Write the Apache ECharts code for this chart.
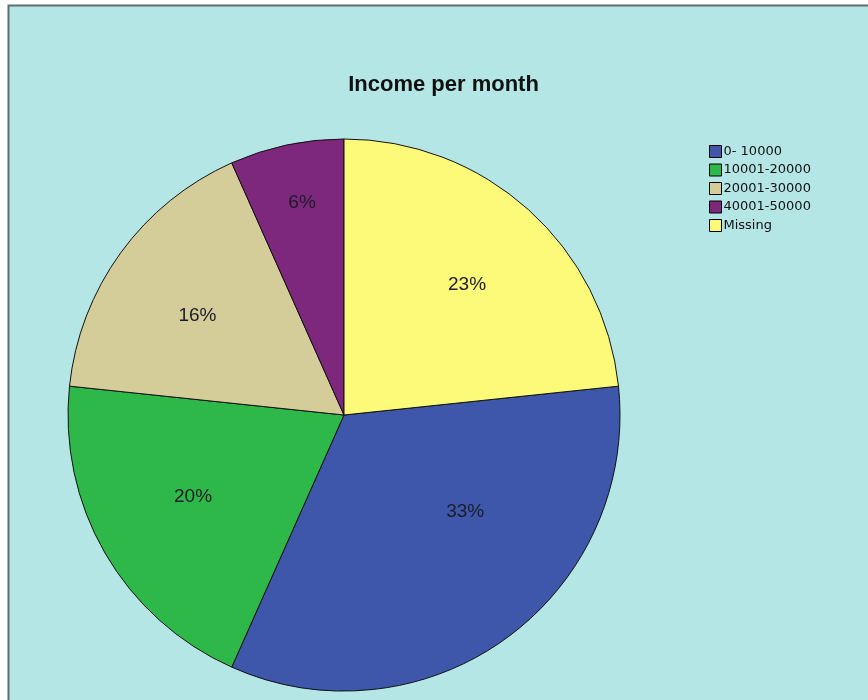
<!DOCTYPE html>
<html>
<head>
<meta charset="utf-8">
<script src="https://cdn.jsdelivr.net/npm/echarts@6/dist/echarts.min.js"></script>
<style>
  html, body { margin: 0; padding: 0; background: #ffffff; }
  #chart { width: 868px; height: 700px; }
</style>
</head>
<body>
<div id="chart"></div>
<script>
// Income brackets (respondent counts), listed in legend order
const categories = ['0- 10000', '10001-20000', '20001-30000', '40001-50000', 'Missing'];
const counts = [10, 6, 5, 2, 7];
const colors = ['#3e57aa', '#2eb84a', '#d5cd99', '#7d287d', '#fcfa78'];
// small per-label shifts (px) away from the mid-angle anchor
const labelNudge = [[14, -51], [7, -9], [1, 8], [-4, -34], [1, 5]];

const total = counts.reduce((a, b) => a + b, 0);
// slices run clockwise; the last one ('Missing') ends at 12 o'clock
const startAngle = 90 - 360 * counts[counts.length - 1] / total;

const pieData = categories.map((name, i) => ({
  name: name,
  value: counts[i],
  itemStyle: { color: colors[i] }
}));

const chart = echarts.init(document.getElementById('chart'), null, { renderer: 'canvas' });

const cx = 344, cy = 415, R = 276;

chart.setOption({
  backgroundColor: '#ffffff',
  animation: false,
  graphic: [{
    type: 'rect',
    z: -10,
    silent: true,
    shape: { x: 8.5, y: 5.5, width: 870, height: 700 },
    style: { fill: '#b4e6e6', stroke: '#5f6f70', lineWidth: 2 }
  }],
  title: {
    text: 'Income per month',
    left: 438.5,
    top: 69,
    textAlign: 'center',
    textStyle: {
      fontFamily: 'Liberation Sans, Arial, sans-serif',
      fontSize: 22,
      fontWeight: 'bold',
      color: '#111111'
    }
  },
  legend: {
    orient: 'vertical',
    left: 704,
    top: 140,
    itemWidth: 12,
    itemHeight: 12,
    itemGap: 5.5,
    icon: 'rect',
    data: categories,
    itemStyle: { borderColor: '#000000', borderWidth: 1 },
    textStyle: {
      fontFamily: 'DejaVu Sans, sans-serif',
      fontSize: 13,
      color: '#111111',
      padding: [0, 0, 0, -3]
    },
    selectedMode: false
  },
  series: [
    {
      // the pie itself
      type: 'pie',
      center: [cx, cy],
      radius: [0, R],
      startAngle: startAngle,
      clockwise: true,
      avoidLabelOverlap: false,
      data: pieData,
      itemStyle: { borderColor: '#111111', borderWidth: 1 },
      label: { show: false },
      labelLine: { show: false },
      emphasis: { disabled: true }
    },
    {
      // transparent twin used only to place the percent labels further out
      type: 'pie',
      center: [cx, cy],
      radius: [0, R * 1.3],
      startAngle: startAngle,
      clockwise: true,
      silent: true,
      avoidLabelOverlap: false,
      data: categories.map((name, i) => ({ name: name, value: counts[i] })),
      itemStyle: { color: 'rgba(0,0,0,0)', borderWidth: 0 },
      label: {
        show: true,
        position: 'inside',
        fontFamily: 'Liberation Sans, Arial, sans-serif',
        fontSize: 19,
        color: '#1c1c28',
        formatter: p => Math.floor(p.value / total * 100) + '%'
      },
      labelLayout: p => ({ dx: labelNudge[p.dataIndex][0], dy: labelNudge[p.dataIndex][1] }),
      labelLine: { show: false },
      emphasis: { disabled: true }
    }
  ]
});
</script>
</body>
</html>
